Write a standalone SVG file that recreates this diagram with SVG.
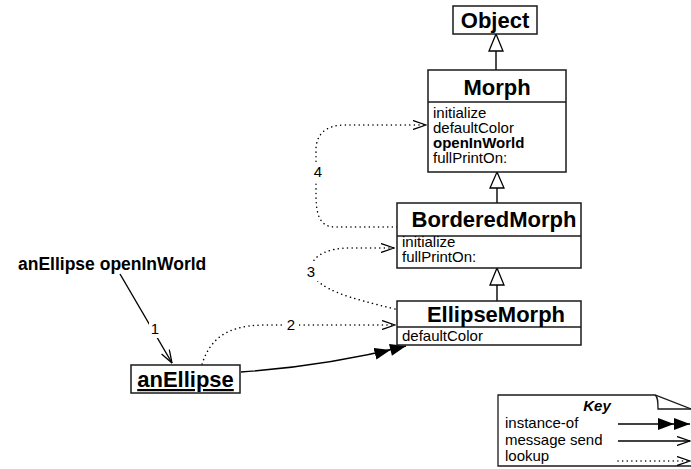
<svg xmlns="http://www.w3.org/2000/svg" width="691" height="469" viewBox="0 0 691 469">
<style>
.box{fill:#fff;stroke:#1a1a1a;stroke-width:1.5}
.sep{stroke:#1a1a1a;stroke-width:1.5}
.title{font-family:"Liberation Sans",Arial,sans-serif;font-weight:bold;font-size:22px;fill:#000;text-anchor:middle}
.item{font-family:"Liberation Sans",Arial,sans-serif;font-size:15px;fill:#000}
.lbl{font-family:"Liberation Sans",Arial,sans-serif;font-size:15px;fill:#000;text-anchor:middle}
.dot{fill:none;stroke:#000;stroke-width:1.5;stroke-dasharray:0.1 4.5;stroke-linecap:round}
.line{fill:none;stroke:#000;stroke-width:1.4}
.inh{fill:#fff;stroke:#000;stroke-width:1.3}
.bg{fill:#fff}
</style>
<defs>
<marker id="open" viewBox="0 0 14 10" refX="13.5" refY="5" markerWidth="14" markerHeight="10" markerUnits="userSpaceOnUse" orient="auto">
<path d="M0.5,0.5 L13.5,5 L0.5,9.5" fill="none" stroke="#000" stroke-width="1.3"/>
</marker>
<marker id="inst" viewBox="0 0 32 12" refX="32" refY="6" markerWidth="32" markerHeight="12" markerUnits="userSpaceOnUse" orient="auto">
<path d="M0,0 L16,6 L0,12 Z M16,0 L32,6 L16,12 Z" fill="#000"/>
</marker>
</defs>

<g id="connectors">
<line class="line" x1="496" y1="51" x2="496" y2="70"/>
<path class="inh" d="M496,34 L503,51 L489,51 Z"/>
<line class="line" x1="497" y1="188" x2="497" y2="203"/>
<path class="inh" d="M497,172 L504,188 L490,188 Z"/>
<line class="line" x1="497" y1="285" x2="497" y2="301"/>
<path class="inh" d="M497,268 L504,285 L490,285 Z"/>

<line class="line" x1="120" y1="274" x2="172" y2="363" marker-end="url(#open)"/>
<rect class="bg" x="149" y="320" width="13" height="18"/>
<text class="lbl" x="155" y="334">1</text>

<path class="dot" d="M202,364 C210,340 225,326 262,325 L395,325" marker-end="url(#open)"/>
<rect class="bg" x="283" y="316" width="16" height="18"/>
<text class="lbl" x="291" y="330">2</text>

<path class="line" d="M241,372 C300,368 350,360 406,346" marker-end="url(#inst)"/>

<path class="dot" d="M395,309 C350,298 318,290 312,272 C308,258 325,248 350,248 L394,248" marker-end="url(#open)"/>
<rect class="bg" x="303" y="263" width="16" height="18"/>
<text class="lbl" x="311" y="277">3</text>

<path class="dot" d="M397,227 L335,227 C320,227 316,215 316,195 L316,150 C316,135 325,125 345,125 L426,125" marker-end="url(#open)"/>
<rect class="bg" x="310" y="163" width="16" height="18"/>
<text class="lbl" x="318" y="177">4</text>
</g>

<g id="Object">
<rect class="box" x="453" y="6" width="84" height="28"/>
<text class="title" x="495" y="28">Object</text>
</g>

<g id="Morph">
<rect class="box" x="428" y="70" width="138" height="102"/>
<line class="sep" x1="428" y1="102" x2="566" y2="102"/>
<text class="title" x="497" y="95">Morph</text>
<text class="item" x="433" y="118">initialize</text>
<text class="item" x="433" y="133">defaultColor</text>
<text class="item" x="433" y="148" font-weight="bold">openInWorld</text>
<text class="item" x="433" y="163">fullPrintOn:</text>
</g>

<g id="BorderedMorph">
<rect class="box" x="397" y="203" width="184" height="65"/>
<line class="sep" x1="397" y1="236" x2="581" y2="236"/>
<text class="title" x="494" y="227">BorderedMorph</text>
<text class="item" x="402" y="247">initialize</text>
<text class="item" x="402" y="262">fullPrintOn:</text>
</g>

<g id="EllipseMorph">
<rect class="box" x="397" y="301" width="184" height="44"/>
<line class="sep" x1="397" y1="327" x2="581" y2="327"/>
<text class="title" x="496" y="322">EllipseMorph</text>
<text class="item" x="402" y="341">defaultColor</text>
</g>

<g id="anEllipse">
<rect class="box" x="131" y="365" width="109" height="28"/>
<text class="title" x="185.5" y="387" text-decoration="underline">anEllipse</text>
</g>

<g id="message">
<text x="18" y="270" font-family="Liberation Sans, Arial, sans-serif" font-weight="bold" font-size="17.5">anEllipse openInWorld</text>
</g>

<g id="key">
<path d="M498,395 L655,395 L691,409 L691,466 L498,466 Z" fill="#fff" stroke="none"/>
<path d="M691,466 L498,466 L498,395 L655,395 L691,409" fill="none" stroke="#1a1a1a" stroke-width="1.3"/>
<path d="M655,395 C658,397 658,402 658,409 L691,409" fill="none" stroke="#1a1a1a" stroke-width="1.3"/>
<text x="597" y="411" font-family="Liberation Sans, Arial, sans-serif" font-weight="bold" font-style="italic" font-size="15" text-anchor="middle">Key</text>
<text class="item" x="505" y="428">instance-of</text>
<text class="item" x="505" y="445">message send</text>
<text class="item" x="505" y="461">lookup</text>
<line class="line" x1="618" y1="424" x2="690" y2="424" marker-end="url(#inst)"/>
<line class="line" x1="618" y1="441" x2="690" y2="441" marker-end="url(#open)"/>
<line class="dot" x1="618" y1="461" x2="690" y2="461" marker-end="url(#open)"/>
</g>
</svg>
